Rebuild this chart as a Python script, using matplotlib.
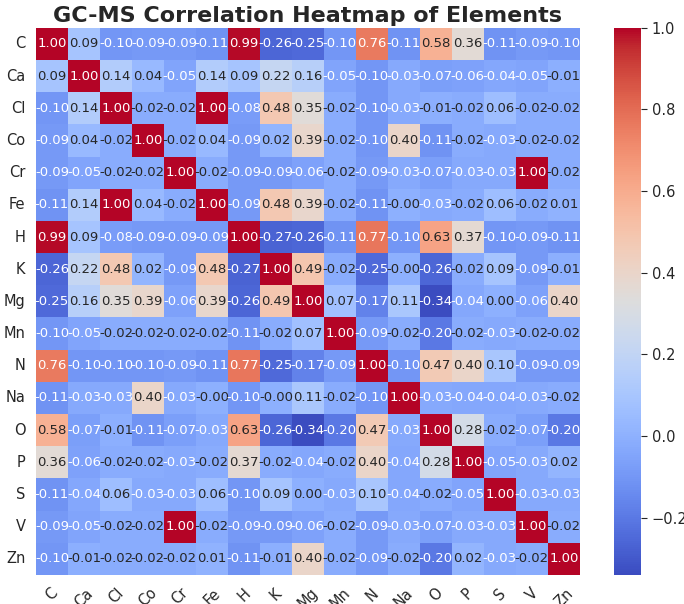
import matplotlib
matplotlib.use('Agg')
import matplotlib.pyplot as plt
import seaborn as sns
import pandas as pd
import numpy as np

elements = ['C', 'Ca', 'Cl', 'Co', 'Cr', 'Fe', 'H', 'K', 'Mg', 'Mn',
            'N', 'Na', 'O', 'P', 'S', 'V', 'Zn']

# correlation rows
row_C = [1.00, 0.09, -0.10, -0.09, -0.09, -0.11, 0.99, -0.26, -0.25, -0.10, 0.76, -0.11, 0.58, 0.36, -0.11, -0.09, -0.10]
row_Ca = [0.09, 1.00, 0.14, 0.04, -0.05, 0.14, 0.09, 0.22, 0.16, -0.05, -0.10, -0.03, -0.07, -0.06, -0.04, -0.05, -0.01]
row_Cl = [-0.10, 0.14, 1.00, -0.02, -0.02, 1.00, -0.08, 0.48, 0.35, -0.02, -0.10, -0.03, -0.01, -0.02, 0.06, -0.02, -0.02]
row_Co = [-0.09, 0.04, -0.02, 1.00, -0.02, 0.04, -0.09, 0.02, 0.39, -0.02, -0.10, 0.40, -0.11, -0.02, -0.03, -0.02, -0.02]
row_Cr = [-0.09, -0.05, -0.02, -0.02, 1.00, -0.02, -0.09, -0.09, -0.06, -0.02, -0.09, -0.03, -0.07, -0.03, -0.03, 1.00, -0.02]
row_Fe = [-0.11, 0.14, 1.00, 0.04, -0.02, 1.00, -0.09, 0.48, 0.39, -0.02, -0.11, -0.0, -0.03, -0.02, 0.06, -0.02, 0.01]
row_H = [0.99, 0.09, -0.08, -0.09, -0.09, -0.09, 1.00, -0.27, -0.26, -0.11, 0.77, -0.10, 0.63, 0.37, -0.10, -0.09, -0.11]
row_K = [-0.26, 0.22, 0.48, 0.02, -0.09, 0.48, -0.27, 1.00, 0.49, -0.02, -0.25, -0.0, -0.26, -0.02, 0.09, -0.09, -0.01]
row_Mg = [-0.25, 0.16, 0.35, 0.39, -0.06, 0.39, -0.26, 0.49, 1.00, 0.07, -0.17, 0.11, -0.34, -0.04, 0.00, -0.06, 0.40]
row_Mn = [-0.10, -0.05, -0.02, -0.02, -0.02, -0.02, -0.11, -0.02, 0.07, 1.00, -0.09, -0.02, -0.20, -0.02, -0.03, -0.02, -0.02]
row_N = [0.76, -0.10, -0.10, -0.10, -0.09, -0.11, 0.77, -0.25, -0.17, -0.09, 1.00, -0.10, 0.47, 0.40, 0.10, -0.09, -0.09]
row_Na = [-0.11, -0.03, -0.03, 0.40, -0.03, -0.0, -0.10, -0.0, 0.11, -0.02, -0.10, 1.00, -0.03, -0.04, -0.04, -0.03, -0.02]
row_O = [0.58, -0.07, -0.01, -0.11, -0.07, -0.03, 0.63, -0.26, -0.34, -0.20, 0.47, -0.03, 1.00, 0.28, -0.02, -0.07, -0.20]
row_P = [0.36, -0.06, -0.02, -0.02, -0.03, -0.02, 0.37, -0.02, -0.04, -0.02, 0.40, -0.04, 0.28, 1.00, -0.05, -0.03, 0.02]
row_S = [-0.11, -0.04, 0.06, -0.03, -0.03, 0.06, -0.10, 0.09, 0.00, -0.03, 0.10, -0.04, -0.02, -0.05, 1.00, -0.03, -0.03]
row_V = [-0.09, -0.05, -0.02, -0.02, 1.00, -0.02, -0.09, -0.09, -0.06, -0.02, -0.09, -0.03, -0.07, -0.03, -0.03, 1.00, -0.02]
row_Zn = [-0.10, -0.01, -0.02, -0.02, -0.02, 0.01, -0.11, -0.01, 0.40, -0.02, -0.09, -0.02, -0.20, 0.02, -0.03, -0.02, 1.00]

rows = [row_C, row_Ca, row_Cl, row_Co, row_Cr, row_Fe, row_H, row_K, row_Mg,
        row_Mn, row_N, row_Na, row_O, row_P, row_S, row_V, row_Zn]
corr = pd.DataFrame(rows, index=elements, columns=elements)

sns.set_style('white')
plt.rcParams['font.family'] = ['DejaVu Sans']

fig = plt.figure(figsize=(6.84, 6.04), dpi=100)
ax = fig.add_axes([0.0526, 0.048, 0.795, 0.906])
cax = fig.add_axes([0.898, 0.048, 0.0395, 0.906])
sns.heatmap(corr, annot=True, fmt='.2f', cmap='coolwarm', ax=ax, cbar_ax=cax,
            annot_kws={'size': 9.5})
ax.set_title('GC-MS Correlation Heatmap of Elements', fontsize=16, fontweight='bold', pad=4)
ax.set_xticklabels(ax.get_xticklabels(), rotation=45, fontsize=10.5)
ax.set_yticklabels(ax.get_yticklabels(), rotation=0, fontsize=10.5)
ax.tick_params(axis='both', length=4, color='#333333')
cax.tick_params(labelsize=10.5, length=4)
plt.savefig('out.png')
